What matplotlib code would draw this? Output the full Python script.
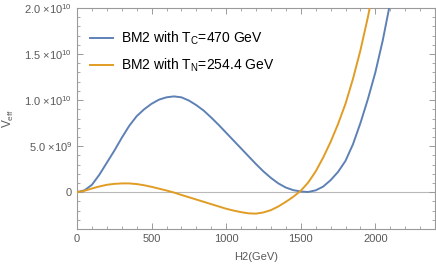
import matplotlib
matplotlib.use("Agg")
import matplotlib.pyplot as plt
import matplotlib.ticker as mplticker

# Values (H2 in GeV, Veff)
h2_tc = [0, 50, 100, 150, 200, 250, 300, 350, 400, 450, 500, 550, 600, 650, 700, 750, 800, 850, 900, 950,
         1000, 1050, 1100, 1150, 1200, 1250, 1300, 1350, 1400, 1450, 1500, 1550, 1600, 1650, 1700, 1750,
         1800, 1850, 1900, 1950, 2000, 2050, 2100]
veff_tc = [0, 0.2e9, 0.8e9, 1.9e9, 3.2e9, 4.5e9, 5.9e9, 7.2e9, 8.25e9, 9.0e9, 9.6e9, 10.05e9, 10.3e9, 10.4e9,
           10.3e9, 9.95e9, 9.45e9, 8.85e9, 8.1e9, 7.3e9, 6.45e9, 5.6e9, 4.75e9, 3.9e9, 3.05e9, 2.25e9, 1.55e9,
           0.95e9, 0.5e9, 0.22e9, 0.07e9, 0.02e9, 0.2e9, 0.6e9, 1.3e9, 2.2e9, 3.4e9, 5.2e9, 7.5e9, 10.1e9,
           13.0e9, 16.5e9, 20.6e9]

h2_tn = [0, 50, 100, 150, 200, 250, 300, 350, 400, 450, 500, 550, 600, 650, 700, 750, 800, 850, 900, 950,
         1000, 1050, 1100, 1150, 1200, 1250, 1300, 1350, 1400, 1450, 1500, 1550, 1600, 1650, 1700, 1750,
         1800, 1850, 1900, 1950, 2000]
veff_tn = [0, 0.15e9, 0.4e9, 0.62e9, 0.8e9, 0.9e9, 0.95e9, 0.95e9, 0.88e9, 0.75e9, 0.58e9, 0.38e9, 0.18e9,
           -0.04e9, -0.3e9, -0.55e9, -0.8e9, -1.05e9, -1.3e9, -1.55e9, -1.8e9, -2.0e9, -2.17e9, -2.3e9,
           -2.33e9, -2.2e9, -1.95e9, -1.55e9, -1.05e9, -0.5e9, 0.15e9, 1.05e9, 2.25e9, 3.75e9, 5.45e9, 7.4e9,
           9.6e9, 12.3e9, 15.4e9, 19.0e9, 23.0e9]

label_tc = r"BM2 with T$_\mathregular{C}$=470 GeV"
label_tn = r"BM2 with T$_\mathregular{N}$=254.4 GeV"

y_ticks = [0, 5e9, 1e10, 1.5e10, 2e10]
y_tick_labels = ["0", r"5.0 $\times$10$^{9}$", r"1.0 $\times$10$^{10}$", r"1.5 $\times$10$^{10}$",
                 r"2.0 $\times$10$^{10}$"]
x_ticks = [0, 500, 1000, 1500, 2000]

plt.rcParams["font.family"] = ["Liberation Sans", "DejaVu Sans"]
plt.rcParams["mathtext.fontset"] = "custom"
plt.rcParams["mathtext.rm"] = "Liberation Sans"
plt.rcParams["mathtext.it"] = "Liberation Sans:italic"

frame_color = "#9a9a9a"
text_color = "#5a5a5a"

fig = plt.figure(figsize=(4.36, 2.71), dpi=100)
ax = fig.add_axes([77 / 436, 42 / 271, 358 / 436, 221 / 271])

ax.axhline(0, color="#b8b8b8", lw=0.8, zorder=1)
ax.plot(h2_tc, veff_tc, color="#5E81B5", lw=1.4, label=label_tc, zorder=3)
ax.plot(h2_tn, veff_tn, color="#E19C24", lw=1.4, label=label_tn, zorder=3)

ax.set_xlim(0, 2400)
ax.set_ylim(-4e9, 2e10)

ax.set_xticks(x_ticks)
ax.set_yticks(y_ticks)
ax.set_yticklabels(y_tick_labels)
ax.xaxis.set_minor_locator(mplticker.MultipleLocator(100))
ax.yaxis.set_minor_locator(mplticker.MultipleLocator(1e9))

ax.tick_params(which="both", direction="in", top=True, right=True, color=frame_color,
               labelcolor=text_color, labelsize=8)
ax.tick_params(which="major", length=4, width=0.7)
ax.tick_params(which="minor", length=2, width=0.6)
for spine in ax.spines.values():
    spine.set_color(frame_color)
    spine.set_linewidth(0.8)

ax.set_xlabel("H2(GeV)", color=text_color, fontsize=8, labelpad=6)
ax.set_ylabel(r"V$_\mathregular{eff}$", color=text_color, fontsize=8.5, labelpad=6)

ax.legend(loc="upper left", bbox_to_anchor=(0.01, 0.945), frameon=False, fontsize=10,
          handlelength=1.65, handletextpad=0.55, labelspacing=0.7, borderaxespad=0.3)

fig.savefig("out.png", dpi=100)
